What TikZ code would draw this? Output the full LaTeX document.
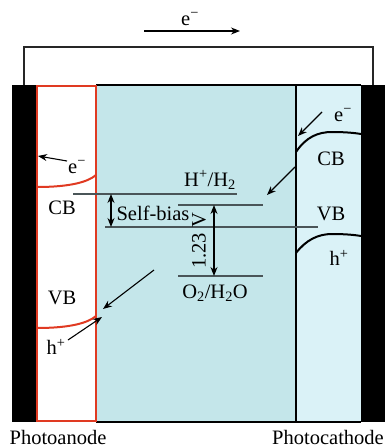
\documentclass[tikz,border=0pt]{standalone}
\usepackage{fontspec}
\setmainfont{Liberation Serif}
\usetikzlibrary{arrows.meta}
\definecolor{electro}{HTML}{C4E6EA}
\definecolor{cathfill}{HTML}{DAF2F7}
\definecolor{anodered}{HTML}{E03A22}
\definecolor{levelgray}{HTML}{4A5558}
\tikzset{
  lbl/.style={inner sep=0pt, font=\fontsize{20.5}{24}\selectfont},
  level/.style={draw=levelgray, line width=1.8pt},
  carrier/.style={-{Stealth[length=9pt,width=7pt]}, line width=1.1pt},
  dbl/.style={{Stealth[length=9pt,width=7pt]}-{Stealth[length=9pt,width=7pt]}, line width=1.3pt},
  wire/.style={draw=black!85, line width=1.8pt},
  band/.style={line width=2pt}
}
\begin{document}
\begin{tikzpicture}[x=1pt,y=-1pt]
\useasboundingbox (0,0) rectangle (387,447);
% external circuit
\draw[wire] (24,86) -- (24,47) -- (373,47) -- (373,86);
\node[lbl] (etop) at (190,19) {e\textsuperscript{−}};
\coordinate (ea) at (144,31);
\coordinate (eb) at (240,31);
\draw[carrier] (ea) -- (eb);
% cell regions
\fill[electro] (96,85) rectangle (296,422);
\fill[cathfill] (296,85) rectangle (361,422);
\fill[black] (12,85) rectangle (36,422);
\fill[black] (361,85) rectangle (385,422);
\draw[line width=1.6pt] (96,85) -- (361,85);
\draw[line width=1.6pt] (96,422) -- (361,422);
\draw[line width=1.6pt] (296,85) -- (296,422);
\draw[anodered, line width=2.2pt] (37,86) rectangle (96,421);
% photoanode bands
\draw[anodered, band] (37,187) .. controls (70,187) and (88,182) .. (96,175);
\draw[anodered, band] (37,328) .. controls (70,328) and (88,323) .. (96,316);
% photocathode bands
\draw[band] (296,152) .. controls (306,137) and (318,132) .. (332,132) .. controls (346,132) and (355,133) .. (361,134);
\draw[band] (296,253) .. controls (306,240) and (318,234) .. (332,234) .. controls (346,234) and (355,235) .. (361,236);
% energy levels
\coordinate (hl) at (73,194); \coordinate (hr) at (237,194);
\coordinate (tl) at (178,205); \coordinate (tr) at (263,205);
\coordinate (sl) at (105,227); \coordinate (sr) at (318,227);
\coordinate (ol) at (178,276); \coordinate (or) at (263,276);
\draw[level] (hl) -- (hr);
\draw[level] (tl) -- (tr);
\draw[level] (sl) -- (sr);
\draw[level] (ol) -- (or);
\coordinate (sbt) at (111,194); \coordinate (sbb) at (111,227);
\draw[dbl] (sbt) -- (sbb);
\coordinate (vt) at (214,205); \coordinate (vb) at (214,276);
\draw[dbl] (vt) -- (vb);
\node[lbl] (hh) at (210,180) {H\textsuperscript{+}/H\textsubscript{2}};
\node[lbl] (sb) at (153,213) {Self-bias};
\node[lbl, rotate=90] (v123) at (199,241) {1.23 V};
\node[lbl] (oo) at (215,293) {O\textsubscript{2}/H\textsubscript{2}O};
% photoanode labels and arrows
\node[lbl] (ae) at (77,167) {e\textsuperscript{−}};
\coordinate (aet) at (38,156);
\draw[carrier] (67,161) -- (aet);
\node[lbl] (acb) at (62,208) {CB};
\node[lbl] (avb) at (62,298) {VB};
\node[lbl] (ah) at (56,347) {h\textsuperscript{+}};
\coordinate (aht) at (102,317);
\draw[carrier] (68,340) -- (aht);
\coordinate (os) at (154,270); \coordinate (ot) at (103,309);
\draw[carrier] (os) -- (ot);
% photocathode labels and arrows
\node[lbl] (ce) at (343,115) {e\textsuperscript{−}};
\coordinate (ces) at (322,112); \coordinate (cet) at (298,136);
\draw[carrier] (ces) -- (cet);
\node[lbl] (ccb) at (331,159) {CB};
\node[lbl] (cvb) at (331,214) {VB};
\node[lbl] (ch) at (339,258) {h\textsuperscript{+}};
\coordinate (hs) at (295,167); \coordinate (ht) at (267,195);
\draw[carrier] (hs) -- (ht);
% electrode names
\node[lbl] (pa) at (58,437) {Photoanode};
\node[lbl] (pc) at (328,437) {Photocathode};
\end{tikzpicture}
\end{document}
